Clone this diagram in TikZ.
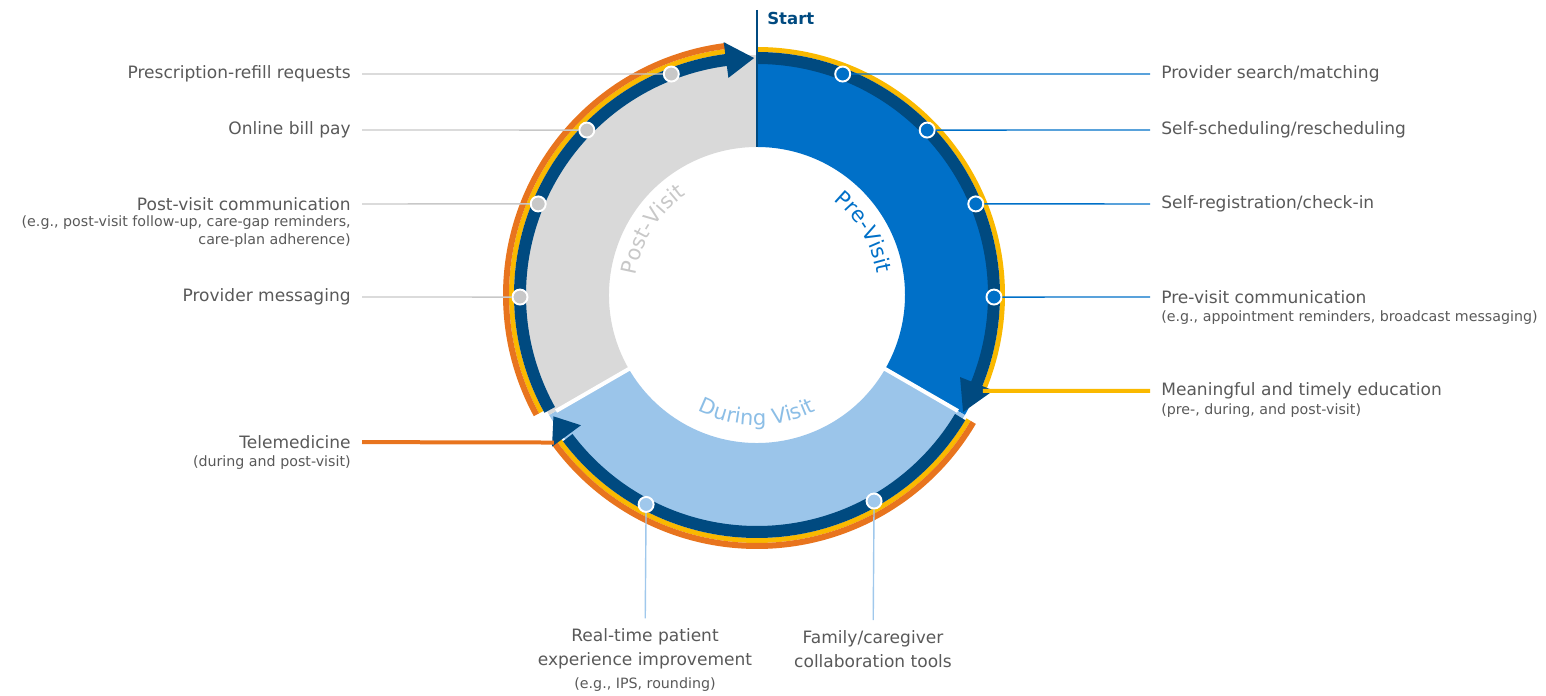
\documentclass[tikz,border=0pt]{standalone}
\usepackage{fontspec}
\setmainfont{DejaVu Sans}
\usetikzlibrary{calc,decorations.text}
\definecolor{navy}{RGB}{0,74,128}
\definecolor{prefill}{RGB}{0,112,200}
\definecolor{durfill}{RGB}{155,197,234}
\definecolor{postfill}{RGB}{217,217,217}
\definecolor{ylw}{RGB}{250,185,0}
\definecolor{orn}{RGB}{232,116,30}
\definecolor{txtgray}{RGB}{89,89,89}
\definecolor{postdot}{RGB}{200,200,200}
\definecolor{durdot}{RGB}{160,200,236}
\definecolor{durtext}{RGB}{140,190,230}

\begin{document}
\begin{tikzpicture}[x=0.02cm,y=0.02cm,
    lbl/.style={text=txtgray,font=\fontsize{9.7}{13.6}\selectfont,inner xsep=0.22cm,inner ysep=0pt},
    sublbl/.style={text=txtgray,font=\fontsize{8.1}{10.2}\selectfont,inner xsep=0.22cm,inner ysep=0pt},
    botlbl/.style={lbl,align=center,inner ysep=0.2cm},
    dot/.style={circle,draw=white,line width=1.1pt,fill=#1,minimum size=0.3cm,inner sep=0pt},
    ring/.style={draw=navy,line width=0.24cm},
    ylwring/.style={draw=ylw,line width=0.1cm},
    ornring/.style={draw=orn,line width=0.12cm},
    head/.style={fill=navy},
    sep/.style={draw=white,line width=0.08cm},
    prelead/.style={draw=prefill,line width=0.8pt},
    postlead/.style={draw=postdot,line width=0.8pt},
    durlead/.style={draw=durdot,line width=0.8pt}]
\useasboundingbox (0,0) rectangle (1546,696);
\coordinate (c) at (757,401);

% the three phases
\fill[prefill,shift={(c)}] (90:148) arc[start angle=90,end angle=-30,radius=148] -- (-30:240) arc[start angle=-30,end angle=90,radius=240] -- cycle;
\fill[durfill,shift={(c)}] (-30:148) arc[start angle=-30,end angle=-150,radius=148] -- (-150:240) arc[start angle=-150,end angle=-30,radius=240] -- cycle;
\fill[postfill,shift={(c)}] (210:148) arc[start angle=210,end angle=90,radius=148] -- (90:240) arc[start angle=90,end angle=210,radius=240] -- cycle;
\draw[sep,shift={(c)}] (-30:146) -- (-30:232);
\draw[sep,shift={(c)}] (210:146) -- (210:232);

% outer rings
\draw[ylwring,shift={(c)}] (90:245.5) arc[start angle=90,end angle=-23,radius=245.5] coordinate (eduend);
\draw[ylwring,shift={(c)}] (-30.5:245.5) arc[start angle=-30.5,end angle=-144,radius=245.5];
\draw[ylwring,shift={(c)}] (208.5:245.5) arc[start angle=208.5,end angle=97,radius=245.5];
\draw[ornring,shift={(c)}] (-30.5:251) arc[start angle=-30.5,end angle=-144,radius=251] coordinate (teleend);
\draw[ornring,shift={(c)}] (208.5:251) arc[start angle=208.5,end angle=97,radius=251];

% arrows
\draw[ring,shift={(c)}] (90:237) arc[start angle=90,end angle=-22.5,radius=237];
\fill[head,shift={(c)}] (-22:219) -- (-29.6:237) -- (-22:255) -- cycle;
\draw[ring,shift={(c)}] (-31:237) arc[start angle=-31,end angle=-143,radius=237];
\fill[head,shift={(c)}] (216.5:219) -- (210.8:237) -- (216.5:255) -- cycle;
\draw[ring,shift={(c)}] (209:237) arc[start angle=209,end angle=97,radius=237];
\fill[head,shift={(c)}] (97.5:219) -- (90.7:237) -- (97.5:255) -- cycle;

% start marker
\coordinate (sttop) at (757,686);
\coordinate (stbot) at (757,549);
\draw[navy,line width=1.4pt] (sttop) -- (stbot);
\node[anchor=west,inner sep=0pt,text=navy,font=\bfseries\fontsize{9.4}{11}\selectfont] (start) at (767,678) {Start};

% phase names
\path[decorate,decoration={text along path,text align=center,text color=prefill,
    text={|\fontsize{12}{14}\selectfont|Pre-Visit}}] ([shift={(c)}]60:122) arc[start angle=60,end angle=1,radius=122];
\path[decorate,decoration={text along path,text align=center,text color=postdot,
    text={|\fontsize{12}{14}\selectfont|Post-Visit}}] ([shift={(c)}]178:123) arc[start angle=178,end angle=118,radius=123];
\path[decorate,decoration={text along path,text align=center,text color=durtext,
    text={|\fontsize{12}{14}\selectfont|During Visit}}] ([shift={(c)}]232:130) arc[start angle=232,end angle=308,radius=130];

% labels
\node[lbl,anchor=west] (pl1) at (1150,622) {Provider search/matching};
\node[lbl,anchor=west] (pl2) at (1150,566) {Self-scheduling/rescheduling};
\node[lbl,anchor=west] (pl3) at (1150,492) {Self-registration/check-in};
\node[lbl,anchor=west] (pl4) at (1150,399) {Pre-visit communication};
\node[sublbl,anchor=west] (pl4s) at (1150,378) {(e.g., appointment reminders, broadcast messaging)};
\node[lbl,anchor=west] (edu) at (1150,305) {Meaningful and timely education};
\node[sublbl,anchor=west] (edus) at (1150,285) {(pre-, during, and post-visit)};

\node[lbl,anchor=east] (ql1) at (362,622) {Prescription-refill requests};
\node[lbl,anchor=east] (ql2) at (362,566) {Online bill pay};
\node[lbl,anchor=east] (ql3) at (362,492) {Post-visit communication};
\node[sublbl,anchor=east,align=right] (ql3s) at (362,464) {(e.g., post-visit follow-up, care-gap reminders,\\care-plan adherence)};
\node[lbl,anchor=east] (ql4) at (362,399) {Provider messaging};
\node[lbl,anchor=east] (tele) at (362,254) {Telemedicine};
\node[sublbl,anchor=east] (teles) at (362,233) {(during and post-visit)};

\node[botlbl] (rt) at (645,47) {Real-time patient\\experience improvement};
\node[sublbl] (rts) at (645,11) {(e.g., IPS, rounding)};
\node[botlbl] (fam) at (873,47) {Family/caregiver\\collaboration tools};

% leaders
\draw[ylwring,line width=0.08cm] (eduend) -- (edu);
\draw[ornring,line width=0.08cm] (teleend) -- (tele);

\node[dot=prefill] (pd1) at ([shift={(c)}]68.8:237) {};
\node[dot=prefill] (pd2) at ([shift={(c)}]44.1:237) {};
\node[dot=prefill] (pd3) at ([shift={(c)}]22.6:237) {};
\node[dot=prefill] (pd4) at ([shift={(c)}]-0.5:237) {};
\node[dot=postdot] (qd1) at ([shift={(c)}]111.2:237) {};
\node[dot=postdot] (qd2) at ([shift={(c)}]135.9:237) {};
\node[dot=postdot] (qd3) at ([shift={(c)}]157.4:237) {};
\node[dot=postdot] (qd4) at ([shift={(c)}]180.5:237) {};
\node[dot=durdot] (bd1) at ([shift={(c)}]242.1:237) {};
\node[dot=durdot] (bd2) at ([shift={(c)}]-60.4:237) {};

\draw[prelead] (pd1) -- (pl1);
\draw[prelead] (pd2) -- (pl2);
\draw[prelead] (pd3) -- (pl3);
\draw[prelead] (pd4) -- (pl4);
\draw[postlead] (qd1) -- (ql1);
\draw[postlead] (qd2) -- (ql2);
\draw[postlead] (qd3) -- (ql3);
\draw[postlead] (qd4) -- (ql4);
\draw[durlead] (bd1) -- (rt);
\draw[durlead] (bd2) -- (fam);
\end{tikzpicture}
\end{document}
